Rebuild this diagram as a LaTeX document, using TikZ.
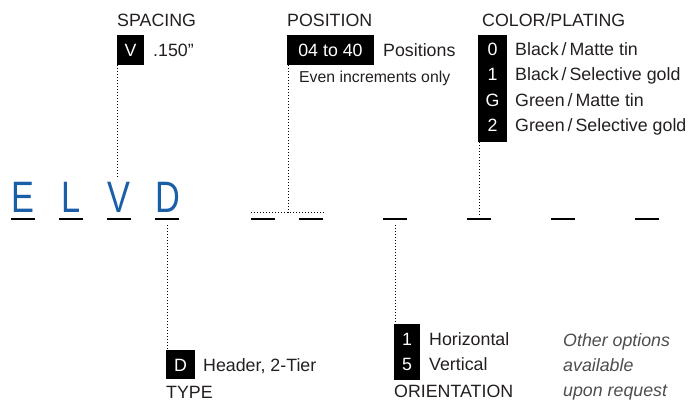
\documentclass[tikz,border=0pt]{standalone}
\usepackage{fontspec}
\setmainfont{Liberation Sans}
\definecolor{txt}{HTML}{231F20}
\definecolor{elvd}{HTML}{1B5EA8}
\begin{document}
\begin{tikzpicture}[x=1pt,y=-1pt,
  lbl/.style={anchor=base west,inner sep=0pt,text=txt,font=\fontsize{17.8}{20}\selectfont},
  small/.style={anchor=base west,inner sep=0pt,text=txt,font=\fontsize{15.8}{18}\selectfont},
  blk/.style={fill=black,draw=none,inner sep=0pt,anchor=north west},
  wtxt/.style={anchor=base,inner sep=0pt,text=white,font=\fontsize{17.8}{20}\selectfont},
  big/.style={anchor=base,inner sep=0pt,text=elvd,font=\fontsize{44}{44}\selectfont},
  uline/.style={line width=2.6pt,draw=black},
  dots/.style={line width=1pt,draw=black,dash pattern=on 1pt off 2pt},
  oth/.style={anchor=base west,inner sep=0pt,text=txt!80,font=\fontsize{17.8}{20}\itshape\selectfont}]
\useasboundingbox (0,0) rectangle (694,403);

% underlines
\foreach \i/\x in {1/11,2/59,3/107,4/155,5/251,6/299,7/383,8/467,9/551,10/635}{
  \draw[uline] (\x,219) -- ++(24,0) coordinate (u\i);
}
% big letters
\node[big] (lE) at (23,213) {\scalebox{0.78}[1]{E}};
\node[big] (lL) at (71,213) {\scalebox{0.78}[1]{L}};
\node[big] (lV) at (119,213) {\scalebox{0.78}[1]{V}};
\node[big] (lD) at (168,213) {\scalebox{0.78}[1]{D}};

% SPACING
\node[lbl] (spc) at (117,27) {SPACING};
\node[blk,minimum width=27pt,minimum height=30pt] (vbox) at (117,35) {};
\node[wtxt] (vt) at (130.5,57) {V};
\node[lbl] (v150) at (153,57) {.150”};
\coordinate (vend) at (117,178);
\draw[dots] (vbox.south west) -- (vend);

% POSITION
\node[lbl] (pos) at (287,27) {POSITION};
\node[blk,minimum width=87pt,minimum height=30pt] (pbox) at (287,35) {};
\node[wtxt] (pt) at (330.5,57) {04 to 40};
\node[lbl] (ps) at (383,57) {Positions};
\node[small] (even) at (299,83) {Even increments only};
\coordinate (ptop) at (288,65);
\coordinate (pmid) at (288,213);
\coordinate (pl) at (251,213);
\coordinate (pr) at (325,213);
\draw[dots] (ptop) -- (pmid);
\draw[dots] (pl) -- (pr);

% COLOR/PLATING
\node[lbl] (col) at (482,27) {COLOR/PLATING};
\node[blk,minimum width=29pt,minimum height=107pt] (cbox) at (478,35) {};
\node[wtxt] (c0) at (492.5,56) {0};
\node[lbl] (t0) at (515,56) {Black\,/\,Matte tin};
\node[wtxt] (c1) at (492.5,81) {1};
\node[lbl] (t1) at (515,81) {Black\,/\,Selective gold};
\node[wtxt] (cG) at (492.5,107) {G};
\node[lbl] (tG) at (515,107) {Green\,/\,Matte tin};
\node[wtxt] (c2) at (492.5,132) {2};
\node[lbl] (t2) at (515,132) {Green\,/\,Selective gold};
\coordinate (ctop) at (479,142);
\coordinate (cend) at (479,215);
\draw[dots] (ctop) -- (cend);

% TYPE
\node[blk,minimum width=29pt,minimum height=29pt] (dbox) at (166,350) {};
\node[wtxt] (dt) at (180.5,372) {D};
\node[lbl] (hdr) at (203,372) {Header, 2-Tier};
\node[lbl] (type) at (166,399) {TYPE};
\coordinate (dtop) at (167,225);
\coordinate (dbot) at (167,350);
\draw[dots] (dtop) -- (dbot);

% ORIENTATION
\node[blk,minimum width=26pt,minimum height=56pt] (obox) at (394,324) {};
\node[wtxt] (o1) at (407,346) {1};
\node[wtxt] (o5) at (407,371) {5};
\node[lbl] (hor) at (429,346) {Horizontal};
\node[lbl] (ver) at (429,371) {Vertical};
\node[lbl] (ori) at (394,398) {ORIENTATION};
\coordinate (otop) at (395,225);
\coordinate (obot) at (395,324);
\draw[dots] (otop) -- (obot);

% other options
\node[oth] (oo1) at (563,347) {Other options};
\node[oth] (oo2) at (563,372) {available};
\node[oth] (oo3) at (563,397) {upon request};
\end{tikzpicture}
\end{document}
